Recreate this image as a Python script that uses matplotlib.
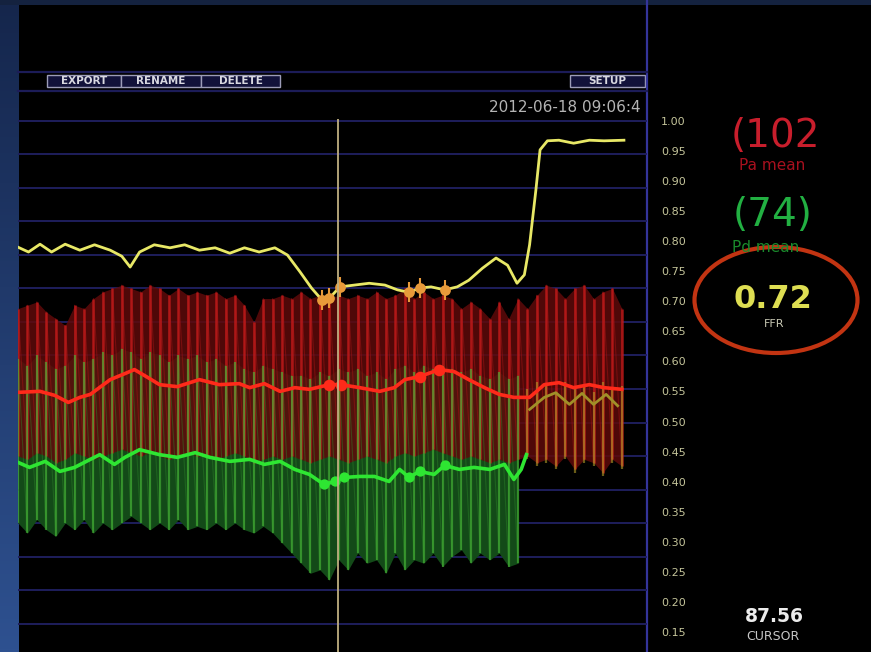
import numpy as np
import matplotlib.pyplot as plt
from matplotlib.patches import Ellipse, Rectangle
from matplotlib.colors import LinearSegmentedColormap

W, H = 871, 652

# recording window (s) and cursor position
t_start, t_end = 57.0, 117.0
beat_period = 0.9
cursor_t = 87.56
pullback_beat = 54          # Pd sensor pulled back to the guide after this beat

# aortic pressure Pa, per beat (mmHg)
pa_sys = [124, 125, 126, 123, 121, 119, 125, 124, 127, 129,
          130, 131, 130, 129, 131, 130, 128, 130, 128, 129,
          128, 129, 127, 128, 125, 120, 127, 127, 128, 127,
          129, 127, 128, 127, 128, 127, 128, 127, 129, 127,
          128, 130, 127, 129, 127, 128, 127, 124, 126, 124,
          121, 126, 121, 127, 124, 128, 131, 130, 127, 130,
          131, 127, 129, 130, 124]
pa_dia = [80, 79, 81, 80, 78, 79, 81, 80, 79, 80,
          81, 82, 81, 80, 81, 80, 79, 80, 81, 80,
          80, 79, 80, 81, 80, 78, 79, 80, 79, 80,
          79, 78, 79, 80, 79, 78, 79, 80, 79, 78,
          80, 81, 80, 81, 82, 81, 80, 79, 80, 79,
          78, 79, 78, 79, 80, 78, 79, 77, 80, 76,
          79, 78, 75, 79, 77]

# distal pressure Pd, per beat (mmHg), before pullback
pd_sys = [109, 107, 110, 108, 106, 107, 110, 108, 109, 111,
          110, 112, 111, 109, 111, 110, 108, 110, 109, 110,
          108, 109, 107, 108, 106, 105, 107, 106, 105, 104,
          104, 103, 105, 104, 106, 105, 106, 104, 105, 103,
          106, 107, 105, 107, 106, 107, 106, 105, 106, 104,
          103, 105, 103, 104]
pd_dia = [60, 57, 61, 58, 56, 60, 58, 61, 57, 60,
          58, 60, 62, 60, 58, 60, 58, 61, 58, 59,
          58, 60, 58, 60, 58, 57, 59, 57, 54, 51,
          48, 45, 46, 43, 49, 46, 51, 48, 49, 45,
          51, 46, 49, 48, 51, 47, 50, 52, 48, 51,
          49, 51, 47, 48]
# Pd after pullback
pd_pull_sys = [100, 102, 101, 99, 102, 100, 101, 99, 102, 100, 101]
pd_pull_dia = [79, 77, 78, 76, 79, 75, 78, 77, 74, 78, 76]

# running means (s, mmHg)
pa_mean_t = [57.0, 59.1, 60.5, 61.8, 62.9, 63.9, 65.8, 67.2, 68.1, 69.4,
             70.5, 72.2, 74.3, 76.2, 78.1, 79.1, 80.5, 82.0, 83.4, 84.8,
             86.7, 87.8, 89.6, 91.5, 92.9, 93.9, 95.3, 97.2, 98.6, 100.0,
             101.5, 102.9, 104.3, 105.8, 107.2, 108.6, 110.0, 111.5, 112.9, 114.6]
pa_mean = [99.0, 99.3, 98.1, 96.0, 97.5, 98.4, 102.8, 104.6, 105.8, 103.4,
           101.3, 100.7, 102.8, 101.3, 101.6, 100.4, 101.6, 99.3, 100.4, 99.9,
           101.3, 101.3, 100.4, 99.3, 100.4, 102.8, 103.7, 105.8, 105.2, 102.8,
           100.4, 98.4, 97.5, 97.5, 101.3, 101.9, 100.4, 101.3, 100.4, 99.9]
pd_mean_t = [57.0, 58.1, 59.6, 61.0, 62.4, 63.9, 64.8, 66.2, 67.2, 68.6,
             70.5, 72.2, 73.9, 75.3, 77.2, 79.1, 80.5, 82.0, 83.4, 84.8,
             86.2, 87.2, 88.1, 89.6, 91.0, 92.4, 93.4, 94.3, 95.3, 96.7,
             97.7, 99.1, 100.5, 102.0, 103.4, 104.3, 105.0, 105.5]
pd_mean = [78.1, 76.6, 78.4, 75.4, 76.6, 79.0, 80.4, 77.5, 79.6, 81.9,
           80.4, 79.6, 81.0, 79.6, 78.4, 79.0, 77.5, 78.4, 76.0, 74.5,
           71.5, 72.4, 73.6, 73.9, 73.9, 72.4, 76.0, 73.6, 75.4, 74.5,
           77.2, 76.0, 76.6, 76.0, 77.5, 73.0, 76.0, 80.4]
pd_pull_mean_t = [105.8, 107.2, 108.3, 109.6, 110.8, 111.9, 113.1, 114.2]
pd_pull_mean = [93.9, 97.5, 98.9, 95.4, 98.7, 95.4, 98.4, 95.0]

# FFR = Pd/Pa trace
ffr_t = [57.0, 58.0, 59.1, 60.2, 61.5, 62.9, 64.3, 65.8, 66.9, 67.7,
         68.6, 70.0, 71.5, 72.9, 74.3, 75.8, 77.2, 78.6, 80.0, 81.5,
         82.7, 83.9, 85.0, 86.0, 86.7, 87.7, 89.1, 90.5, 92.0, 93.2,
         94.3, 95.3, 96.4, 97.7, 98.9, 100.0, 101.3, 102.6, 103.7, 104.6,
         105.3, 105.8, 106.4, 106.8, 107.5, 108.6, 110.0, 111.5, 112.9, 114.8]
ffr = [0.790, 0.782, 0.795, 0.782, 0.795, 0.785, 0.794, 0.785, 0.775, 0.757,
       0.782, 0.794, 0.789, 0.794, 0.785, 0.789, 0.780, 0.789, 0.782, 0.789,
       0.777, 0.749, 0.722, 0.702, 0.705, 0.724, 0.727, 0.730, 0.727, 0.719,
       0.715, 0.722, 0.724, 0.719, 0.724, 0.735, 0.755, 0.772, 0.760, 0.730,
       0.744, 0.794, 0.885, 0.952, 0.967, 0.968, 0.963, 0.968, 0.967, 0.968]
ffr_ticks = [1.00, 0.95, 0.90, 0.85, 0.80, 0.75, 0.70, 0.65, 0.60,
             0.55, 0.50, 0.45, 0.40, 0.35, 0.30, 0.25, 0.20, 0.15]

# marked beats (s)
mark_windows = [(85.8, 88.2), (94.2, 95.6), (97.1, 98.2)]

pa_mean_val, pd_mean_val, ffr_val = 102, 74, 0.72


def saw(t, lo, hi):
    # upstroke at each beat, decay to the next diastole
    x = np.repeat(t, 2)
    y = np.column_stack([lo, hi]).ravel()
    return x, y


def in_marks(t):
    t = np.asarray(t)
    m = np.zeros(len(t), bool)
    for a, b in mark_windows:
        m |= (t >= a) & (t <= b)
    return m


fig = plt.figure(figsize=(W / 100, H / 100), dpi=100)
fig.patch.set_facecolor('black')

# screen furniture in pixel coordinates
bg = fig.add_axes([0, 0, 1, 1])
bg.set_zorder(0)
bg.axis('off')
grad = LinearSegmentedColormap.from_list('slide', ['#15264c', '#2e5190'])
bg.imshow(np.linspace(0, 1, 200).reshape(-1, 1), cmap=grad, extent=[0, 18, H, 0], aspect='auto')
bg.add_patch(Rectangle((0, 0), W, 5, color='#14223f', lw=0))
bg.plot([647, 647], [0, H], color='#34349a', lw=1.6)
bg.plot([18, 647], [72, 72], color='#1c1c58', lw=1.6)
bg.plot([18, 647], [91, 91], color='#1c1c58', lw=1.6)
bg.set_xlim(0, W)
bg.set_ylim(H, 0)

for x0, x1, label in [(47, 121, 'EXPORT'), (121, 201, 'RENAME'), (201, 280, 'DELETE'), (570, 645, 'SETUP')]:
    bg.add_patch(Rectangle((x0, 75), x1 - x0, 12, fc='#12123a', ec='#9c9cb8', lw=1))
    bg.text((x0 + x1) / 2, 81.5, label, ha='center', va='center', color='#d8d8e0',
            fontsize=7.5, fontweight='bold')
bg.text(641, 108, '2012-06-18 09:06:4', ha='right', va='center', color='#b4b4b4', fontsize=11)

bg.text(775, 136, '(%d' % pa_mean_val, ha='center', va='center', color='#c81e2c', fontsize=28)
bg.text(772, 165, 'Pa mean', ha='center', va='center', color='#a8101e', fontsize=11)
bg.text(773, 215, '(%d)' % pd_mean_val, ha='center', va='center', color='#22b042', fontsize=28)
bg.text(766, 247, 'Pd mean', ha='center', va='center', color='#1a8a2c', fontsize=11)
bg.text(773, 299, '%.2f' % ffr_val, ha='center', va='center', color='#dede52', fontsize=23, fontweight='bold')
bg.text(774, 324, 'FFR', ha='center', va='center', color='#c8c8b4', fontsize=8)
bg.add_patch(Ellipse((776, 300), 163, 106, fill=False, ec='#c23412', lw=3))
bg.text(774, 617, '%.2f' % cursor_t, ha='center', va='center', color='#ececec', fontsize=13.5, fontweight='bold')
bg.text(773, 636, 'CURSOR', ha='center', va='center', color='#c8c8c8', fontsize=9)

# pressure traces (mmHg)
top = 119.3
ax = fig.add_axes([18 / W, 0, (647 - 18) / W, 1 - top / H])
ax.set_zorder(1)
ax.patch.set_visible(False)
ax.set_xlim(t_start, t_end)
ax.set_ylim(21.5, 180.5)
ax.set_yticks(range(30, 181, 10))
ax.grid(axis='y', color='#1e1e5c', lw=1.4)
ax.set_axisbelow(True)
for s in ax.spines.values():
    s.set_visible(False)

beat_t = t_start + beat_period * np.arange(len(pa_sys))
pd_t = beat_t[:pullback_beat]
pull_t = beat_t[pullback_beat:]

ax.fill_between(pd_t, pd_dia, pd_sys, color='#134a18', lw=0, zorder=1)
ax.fill_between(beat_t, pa_dia, pa_sys, color='#5e0a0a', lw=0, alpha=0.85, zorder=2)
ax.plot(*saw(beat_t, pa_dia, pa_sys), color='#a01414', lw=0.8, alpha=0.5, zorder=3)
ax.vlines(beat_t, pa_dia, pa_sys, color='#c01a1a', lw=1.8, alpha=0.8, zorder=3)
ax.plot(*saw(pd_t, pd_dia, pd_sys), color='#2f8a2a', lw=0.8, alpha=0.4, zorder=4)
ax.vlines(pd_t, pd_dia, pd_sys, color='#4cc03a', lw=1.6, alpha=0.55, zorder=4)
ax.vlines(pull_t, pd_pull_dia, pd_pull_sys, color='#b09a28', lw=1.6, alpha=0.6, zorder=4)

ax.plot(pa_mean_t, pa_mean, color='#ff2a1a', lw=2.6, zorder=5)
ax.plot(pd_mean_t, pd_mean, color='#2ee632', lw=2.6, zorder=5)
ax.plot(pd_pull_mean_t, pd_pull_mean, color='#a09028', lw=2, zorder=5)
m = in_marks(pa_mean_t)
ax.scatter(np.array(pa_mean_t)[m], np.array(pa_mean)[m], s=70, color='#ff2a1a', lw=0, zorder=6)
m = in_marks(pd_mean_t)
ax.scatter(np.array(pd_mean_t)[m], np.array(pd_mean)[m], s=55, color='#2ee632', lw=0, zorder=6)

# FFR on the right-hand scale
axf = ax.twinx()
axf.patch.set_visible(False)
axf.set_ylim(0.1165, 1.0028)
axf.set_yticks(ffr_ticks)
axf.set_yticklabels(['%.2f' % v for v in ffr_ticks])
axf.tick_params(axis='y', length=0, pad=10, labelsize=8, labelcolor='#c4c49a')
for s in axf.spines.values():
    s.set_visible(False)
# twinx puts ticks back on the left of the pressure axis
ax.tick_params(left=False, labelleft=False, bottom=False, labelbottom=False)
axf.tick_params(bottom=False, labelbottom=False)

axf.plot(ffr_t, ffr, color='#e8e866', lw=2.0, zorder=3)
m = in_marks(ffr_t)
axf.scatter(np.array(ffr_t)[m], np.array(ffr)[m], s=60, color='#e89a3a', lw=0, zorder=4)
axf.scatter(np.array(ffr_t)[m], np.array(ffr)[m], s=220, marker='|', color='#e89a3a', lw=1.5, zorder=4)
axf.axvline(cursor_t, color='#bfae80', lw=1.3, zorder=5)

fig.savefig('out.png', dpi=100, facecolor='black')
